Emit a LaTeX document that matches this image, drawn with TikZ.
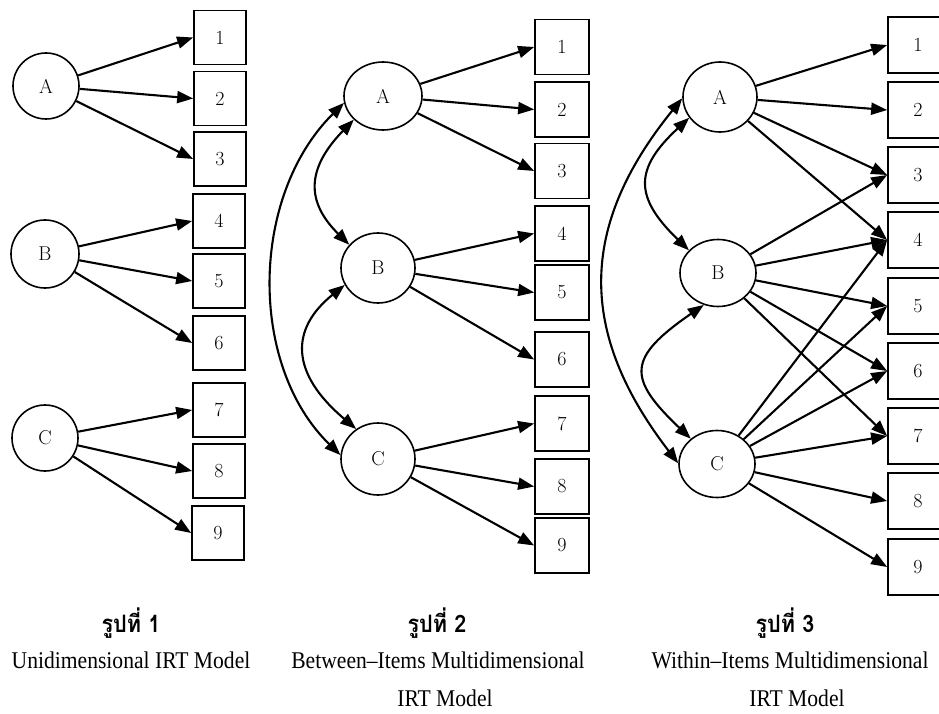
\documentclass[tikz,border=0pt]{standalone}
\usepackage{fontspec}
\usetikzlibrary{arrows.meta,shapes.geometric}
\newfontfamily\thaifont[Script=Thai,FakeStretch=0.9]{Loma}
\newfontfamily\capfont[FakeStretch=0.9]{Liberation Serif}

\begin{document}
\begin{tikzpicture}[x=1pt,y=-1pt,
  every node/.style={inner sep=0pt, font=\fontsize{20}{24}\selectfont},
  latent/.style={draw, line width=1.6pt, ellipse},
  item/.style={draw, line width=1.7pt, rectangle, minimum width=53pt, minimum height=54pt},
  load/.style={line width=2.1pt, -{Triangle[length=16pt,width=12pt]}},
  cov/.style={line width=2.1pt, {Triangle[length=16pt,width=12pt]}-{Triangle[length=16pt,width=12pt]}},
  thaicap/.style={font={\thaifont\bfseries\fontsize{24}{28}\selectfont}},
  engcap/.style={font={\capfont\fontsize{24}{28}\selectfont}},
]
\useasboundingbox (0,0) rectangle (939,714);
\fill[white] (0,0) rectangle (939,714);

% ---------- Model 1: unidimensional ----------
\node[latent, minimum width=66pt, minimum height=66pt] (p1A) at (46,86) {A};
\node[latent, minimum width=68pt, minimum height=68pt] (p1B) at (45,254) {B};
\node[latent, minimum width=66pt, minimum height=66pt] (p1C) at (45,438) {C};
\foreach \i/\x/\y in {1/220/37.5, 2/220/98.5, 3/220/159, 4/219/221, 5/219/281,
                      6/219/343, 7/219/410, 8/219/471, 9/218/533}
  \node[item, minimum width=52pt] (p1b\i) at (\x,\y) {\i};
\foreach \f/\t in {A/1, A/2, A/3, B/4, B/5, B/6, C/7, C/8, C/9}
  \draw[load] (p1\f) -- (p1b\t.west);

% ---------- Model 2: between-items multidimensional ----------
\node[latent, minimum width=78pt, minimum height=68pt] (p2A) at (383,96) {A};
\node[latent, minimum width=74pt, minimum height=70pt] (p2B) at (378,268) {B};
\node[latent, minimum width=74pt, minimum height=72pt] (p2C) at (378,459) {C};
\foreach \i/\y in {1/47, 2/109.5, 3/171, 4/233.5, 5/292.5, 6/359.5, 7/423.5, 8/486.5, 9/545.5}
  \node[item, minimum width=54pt, minimum height=55pt] (p2b\i) at (562,\y) {\i};
\foreach \f/\t in {A/1, A/2, A/3, B/4, B/5, B/6, C/7, C/8, C/9}
  \draw[load] (p2\f) -- (p2b\t.west);
\draw[cov] (p2A.219) .. controls (306,169) and (306,202) .. (p2B.141);
\draw[cov] (p2B.207) .. controls (290,329) and (290,373) .. (p2C.126);
\draw[cov] (p2A.190) .. controls (250,196) and (248,365) .. (p2C.174);

% ---------- Model 3: within-items multidimensional ----------
\node[latent, minimum width=74pt, minimum height=70pt] (p3A) at (720,97) {A};
\node[latent, minimum width=76pt, minimum height=67pt] (p3B) at (718,273) {B};
\node[latent, minimum width=76pt, minimum height=67pt] (p3C) at (717,464) {C};
\foreach \i/\y in {1/45, 2/110, 3/175, 4/240, 5/306, 6/371, 7/436, 8/501, 9/567}
  \node[item, minimum width=60pt, minimum height=56pt] (p3b\i) at (918,\y) {\i};
\foreach \f/\t in {A/1, A/2, A/3, A/4,
                   B/3, B/4, B/5, B/6, B/7,
                   C/4, C/5, C/6, C/7, C/8, C/9}
  \draw[load] (p3\f) -- (p3b\t.west);
\draw[cov] (p3A.214) .. controls (634,169) and (634,197) .. (p3B.142);
\draw[cov] (p3B.246) .. controls (627,358) and (627,378) .. (p3C.136);
\draw[cov] (p3A.182) .. controls (578,227) and (578,333) .. (p3C.179);

% ---------- captions ----------
\node[thaicap] (t1) at (131,623) {รูปที่ 1};
\node[engcap] (e1) at (131,660) {Unidimensional IRT Model};
\node[thaicap] (t2) at (437,623) {รูปที่ 2};
\node[engcap] (e2) at (438,660) {Between–Items Multidimensional};
\node[engcap] (f2) at (445,698) {IRT Model};
\node[thaicap] (t3) at (785,623) {รูปที่ 3};
\node[engcap] (e3) at (790,660) {Within–Items Multidimensional};
\node[engcap] (f3) at (797,698) {IRT Model};
\end{tikzpicture}
\end{document}
